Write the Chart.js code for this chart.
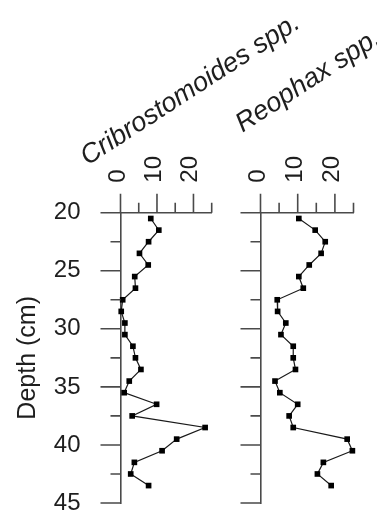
<!DOCTYPE html>
<html><head><meta charset="utf-8">
<script src="https://cdn.jsdelivr.net/npm/chart.js@4.4.1/dist/chart.umd.min.js"></script>
<style>
html,body{margin:0;padding:0;background:#fff;}
#wrap{position:relative;width:377px;height:511px;overflow:hidden;}
canvas{position:absolute;left:0;top:0;}
</style></head><body>
<div id="wrap"><canvas id="c1" width="377" height="511"></canvas><canvas id="c2" width="377" height="511"></canvas></div>
<script>
// ---- data ----
const depths  = [20.5,21.5,22.5,23.5,24.5,25.5,26.5,27.5,28.5,29.5,30.5,31.5,32.5,33.5,34.5,35.5,36.5,37.5,38.5,39.5,40.5,41.5,42.5,43.5];
const cribro  = [8.3,10.5,7.7,5.2,7.6,3.9,4.1,0.6,0.2,1.2,1.2,3.4,4.1,5.6,2.4,1.0,9.9,3.2,23.2,15.4,11.4,3.8,2.8,7.7];
const reophax = [10.3,14.7,17.4,16.3,13.1,10.3,11.5,4.5,4.6,6.8,5.5,8.8,8.8,9.4,3.9,5.2,10.0,7.7,8.8,23.3,24.7,16.9,15.3,19.0];
const taxa = ['Cribrostomoides spp.', 'Reophax spp.'];
const depthTickLabels = ['20','25','30','35','40','45'];
const countTickLabels = ['0','10','20'];
const yTitle = 'Depth (cm)';

const FONT = '"Liberation Sans", Arial, Helvetica, sans-serif';
const AX = '#4a4a4a';
const TXT = '#1e1e1e';

const axisPlugin = {
  id: 'stratAxes',
  afterDraw(chart, args, opts) {
    const ctx = chart.ctx, xs = chart.scales.x, ys = chart.scales.y;
    ctx.save();
    ctx.strokeStyle = AX; ctx.lineWidth = 1.6; ctx.lineCap = 'butt';
    ctx.beginPath();
    ys.ticks.forEach(t => {
      const p = ys.getPixelForValue(t.value);
      const L = depthTickLabels.includes(String(t.value)) ? 20 : 10;
      ctx.moveTo(ys.right - L, p); ctx.lineTo(ys.right, p);
    });
    xs.ticks.forEach(t => {
      const p = xs.getPixelForValue(t.value);
      const L = countTickLabels.includes(String(t.value)) ? 19 : 10;
      ctx.moveTo(p, xs.bottom); ctx.lineTo(p, xs.bottom - L);
    });
    ctx.stroke();
    // rotated count tick labels (reading bottom to top)
    ctx.fillStyle = TXT;
    ctx.font = '24px ' + FONT;
    ctx.textAlign = 'left'; ctx.textBaseline = 'alphabetic';
    xs.ticks.forEach(t => {
      const s = String(t.value);
      if (!countTickLabels.includes(s)) return;
      const p = xs.getPixelForValue(t.value);
      ctx.save();
      ctx.translate(p + 4, xs.bottom - 19 - 11);
      ctx.rotate(-Math.PI / 2);
      ctx.fillText(s, 0, 0);
      ctx.restore();
    });
    // rotated taxon title
    const a = chart.chartArea;
    ctx.translate(a.left + opts.dx, a.top + opts.dy);
    ctx.rotate(-33 * Math.PI / 180);
    ctx.font = 'italic 27px ' + FONT;
    ctx.fillText(opts.title, 0, 0);
    ctx.restore();
  }
};

function makeChart(id, values, title, area, showY, dx, dy) {
  return new Chart(document.getElementById(id), {
    type: 'scatter',
    data: { datasets: [{
      data: depths.map((d, i) => ({ x: values[i], y: d })),
      showLine: true,
      borderColor: '#1a1a1a', borderWidth: 1.2,
      pointStyle: 'rect', pointRadius: 4, pointHoverRadius: 4,
      pointBackgroundColor: '#000', pointBorderColor: '#000', pointBorderWidth: 0,
      clip: false
    }]},
    options: {
      responsive: false, animation: false,
      layout: { padding: { left: 0, top: 0, right: 377 - area.right, bottom: 511 - area.bottom } },
      plugins: { legend: { display: false }, tooltip: { enabled: false }, stratAxes: { title: title, dx: dx, dy: dy } },
      scales: {
        x: {
          type: 'linear', position: 'top', min: 0, max: 25,
          afterFit(s) { s.height = area.top; s.paddingLeft = 0; s.paddingRight = 0; },
          ticks: { display: false, stepSize: 5, autoSkip: false },
          grid: { display: true, drawOnChartArea: false, drawTicks: true, tickLength: 19, tickColor: 'rgba(0,0,0,0)' },
          border: { display: true, color: AX, width: 1.6 }
        },
        y: {
          type: 'linear', position: 'left', min: 20, max: 45, reverse: true,
          afterFit(s) { s.width = area.left; s.paddingTop = 0; s.paddingBottom = 0; },
          ticks: {
            stepSize: 2.5, autoSkip: false, padding: 20,
            color: TXT, font: { family: FONT, size: 24 },
            callback: v => (showY && depthTickLabels.includes(String(v))) ? String(v) : ''
          },
          grid: { display: true, drawOnChartArea: false, drawTicks: true, tickLength: 20, tickColor: 'rgba(0,0,0,0)' },
          border: { display: true, color: AX, width: 1.6 },
          title: { display: showY, text: yTitle, color: TXT, font: { family: FONT, size: 25 }, padding: { top: 13, bottom: 0 } }
        }
      }
    },
    plugins: [axisPlugin]
  });
}

makeChart('c1', cribro, taxa[0], { left: 120.5, right: 211.7, top: 212.7, bottom: 503 }, true, -33, -47);
makeChart('c2', reophax, taxa[1], { left: 260.5, right: 353.5, top: 212.7, bottom: 503 }, false, -18, -80);
</script>
</body></html>
